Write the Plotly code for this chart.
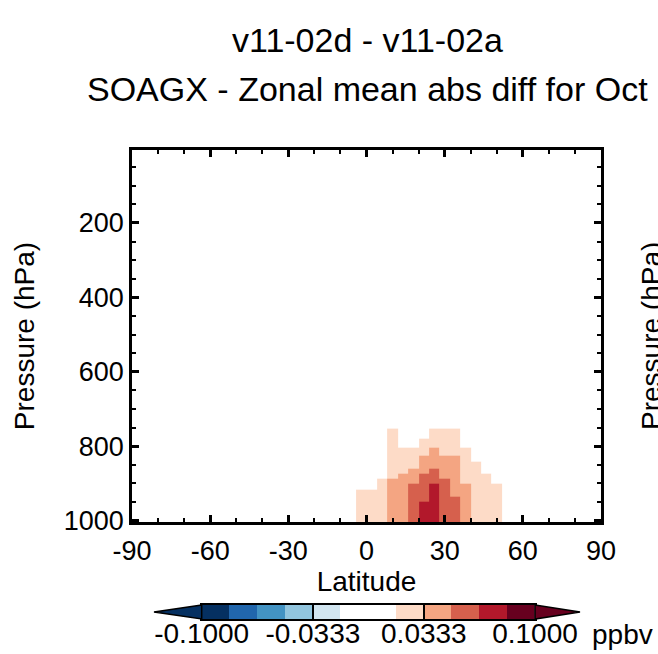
import plotly.graph_objects as go

# latitude cell edges (deg) and pressure cell edges (hPa), bottom -> top
lat_edges = [-4, 0, 4, 8, 12, 16, 20, 24, 28, 32, 36, 40, 44, 48, 52]
pres_edges = [1013, 948, 935, 918, 902, 887, 874, 860, 843, 825, 804, 780, 753]

# zonal mean abs diff (ppbv), one row per level, bottom level first
diff = [
    [0.021, 0.024, 0.029, 0.041, 0.047, 0.062, 0.079, 0.081, 0.064, 0.055, 0.044, 0.028, 0.024, 0.019],
    [0.020, 0.023, 0.028, 0.040, 0.046, 0.060, 0.063, 0.078, 0.063, 0.052, 0.042, 0.027, 0.023, 0.018],
    [0.018, 0.021, 0.027, 0.039, 0.045, 0.058, 0.064, 0.076, 0.061, 0.046, 0.040, 0.026, 0.022, 0.018],
    [0.015, 0.014, 0.025, 0.037, 0.044, 0.056, 0.063, 0.071, 0.059, 0.044, 0.037, 0.025, 0.021, 0.019],
    [0.011, 0.013, 0.022, 0.035, 0.041, 0.046, 0.061, 0.060, 0.054, 0.045, 0.031, 0.024, 0.019, 0.014],
    [0.008, 0.010, 0.013, 0.031, 0.038, 0.046, 0.057, 0.062, 0.045, 0.043, 0.028, 0.022, 0.020, 0.012],
    [0.006, 0.008, 0.013, 0.029, 0.031, 0.041, 0.045, 0.058, 0.045, 0.040, 0.026, 0.020, 0.015, 0.010],
    [0.005, 0.006, 0.011, 0.027, 0.029, 0.032, 0.044, 0.046, 0.042, 0.038, 0.024, 0.020, 0.013, 0.009],
    [0.004, 0.005, 0.009, 0.025, 0.027, 0.030, 0.039, 0.045, 0.037, 0.035, 0.022, 0.015, 0.011, 0.007],
    [0.003, 0.004, 0.008, 0.023, 0.021, 0.025, 0.031, 0.040, 0.029, 0.027, 0.019, 0.013, 0.009, 0.006],
    [0.002, 0.003, 0.006, 0.021, 0.015, 0.013, 0.024, 0.029, 0.027, 0.025, 0.014, 0.010, 0.007, 0.005],
    [0.002, 0.002, 0.005, 0.019, 0.012, 0.011, 0.012, 0.023, 0.022, 0.021, 0.011, 0.008, 0.006, 0.004],
]

lat_ticks = [-90, -60, -30, 0, 30, 60, 90]
lat_ticktext = ["-90", "-60", "-30", "0", "30", "60", "90"]
pres_ticks = [200, 400, 600, 800, 1000]

# contour levels and colours (12 bins between -0.1 and 0.1)
levels = [-0.1 + i * 0.2 / 12 for i in range(13)]
level_colors = ["#053061", "#2166ac", "#4393c3", "#92c5de", "#d1e5f0", "#ffffff",
                "#ffffff", "#fddbc7", "#f4a582", "#d6604d", "#b2182b", "#67001f"]
cbar_ticks = [-0.1, -0.0333, 0.0333, 0.1]
cbar_ticktext = ["-0.1000", "-0.0333", "0.0333", "0.1000"]

colorscale = []
for i, c in enumerate(level_colors):
    colorscale.append([i / 12, c])
    colorscale.append([(i + 1) / 12, c])

# page layout in pixels, paper = whole page
W, H = 658, 654


def fx(x):
    return x / W


def fy(y):
    return (H - y) / H


font = "Liberation Sans, Arial, Helvetica, sans-serif"

fig = go.Figure()
fig.add_trace(go.Heatmap(
    x=lat_edges, y=pres_edges, z=diff,
    zmin=-0.1, zmax=0.1, colorscale=colorscale, showscale=False,
))

# colour bar drawn as its own little heatmap
mids = [(levels[i] + levels[i + 1]) / 2 for i in range(12)]
fig.add_trace(go.Heatmap(
    x=levels, y=[0, 1], z=[mids],
    zmin=-0.1, zmax=0.1, colorscale=colorscale, showscale=False,
    xaxis="x2", yaxis="y2", hoverinfo="skip",
))

axis_common = dict(
    showline=True, linecolor="black", linewidth=2.5, mirror="allticks",
    ticks="inside", ticklen=7, tickwidth=2.5, tickcolor="black",
    showgrid=False, zeroline=False, automargin=False, tickangle=0,
    tickfont=dict(size=27, color="black", family=font),
)

fig.update_layout(
    width=W, height=H,
    margin=dict(l=0, r=0, t=0, b=0, autoexpand=False),
    paper_bgcolor="white", plot_bgcolor="white",
    font=dict(family=font, color="black"),
    xaxis=dict(
        domain=[fx(132), fx(601)],
        range=[-90, 90], tickvals=lat_ticks, ticktext=lat_ticktext,
        minor=dict(dtick=10, ticks="inside", ticklen=4, tickwidth=2, tickcolor="black"),
        title=dict(text="Latitude", font=dict(size=28), standoff=0),
        ticklabelstandoff=3,
        **axis_common,
    ),
    yaxis=dict(
        domain=[fy(522), fy(150)],
        range=[1004, 4], tickvals=pres_ticks,
        minor=dict(dtick=50, ticks="inside", ticklen=4, tickwidth=2, tickcolor="black"),
        title=dict(text="Pressure (hPa)", font=dict(size=28), standoff=21),
        **axis_common,
    ),
    xaxis2=dict(
        domain=[fx(201.7), fx(535)], anchor="y2",
        range=[-0.1, 0.1], tickvals=cbar_ticks, ticktext=cbar_ticktext,
        showline=True, linecolor="black", linewidth=1.5, mirror=True,
        ticks="inside", ticklen=14, tickwidth=1.5, tickcolor="black",
        showgrid=False, zeroline=False, automargin=False, tickangle=0,
        ticklabelstandoff=-11,
        tickfont=dict(size=28, color="black", family=font),
    ),
    yaxis2=dict(
        domain=[fy(619), fy(605)], anchor="x2", range=[0, 1],
        showline=True, linecolor="black", linewidth=1.5, mirror=True,
        showticklabels=False, ticks="", showgrid=False, zeroline=False, automargin=False,
    ),
    annotations=[
        dict(text="v11-02d - v11-02a", x=fx(367.5), y=fy(40), xref="paper", yref="paper",
             showarrow=False, font=dict(size=34), xanchor="center", yanchor="middle"),
        dict(text="SOAGX - Zonal mean abs diff for Oct", x=fx(367.5), y=fy(89), xref="paper",
             yref="paper", showarrow=False, font=dict(size=34), xanchor="center", yanchor="middle"),
        dict(text="ppbv", x=fx(590), y=fy(634), xref="paper", yref="paper", showarrow=False,
             font=dict(size=28), xanchor="left", yanchor="middle"),
        dict(text="Pressure (hPa)", x=fx(651), y=fy(336), xref="paper", yref="paper",
             showarrow=False, textangle=-90, font=dict(size=28), xanchor="center", yanchor="middle"),
    ],
    shapes=[
        dict(type="path", xref="paper", yref="paper",
             path=f"M {fx(201.7)} {fy(605)} L {fx(154)} {fy(612)} L {fx(201.7)} {fy(619)} Z",
             fillcolor="#053061", line=dict(color="black", width=1.5)),
        dict(type="path", xref="paper", yref="paper",
             path=f"M {fx(535)} {fy(605)} L {fx(580)} {fy(612)} L {fx(535)} {fy(619)} Z",
             fillcolor="#67001f", line=dict(color="black", width=1.5)),
    ],
)

# drop the default page margin so the figure sits at the window corner
fig.write_html("out.html", config={"displayModeBar": False},
               post_script="document.body.style.margin = '0';")
